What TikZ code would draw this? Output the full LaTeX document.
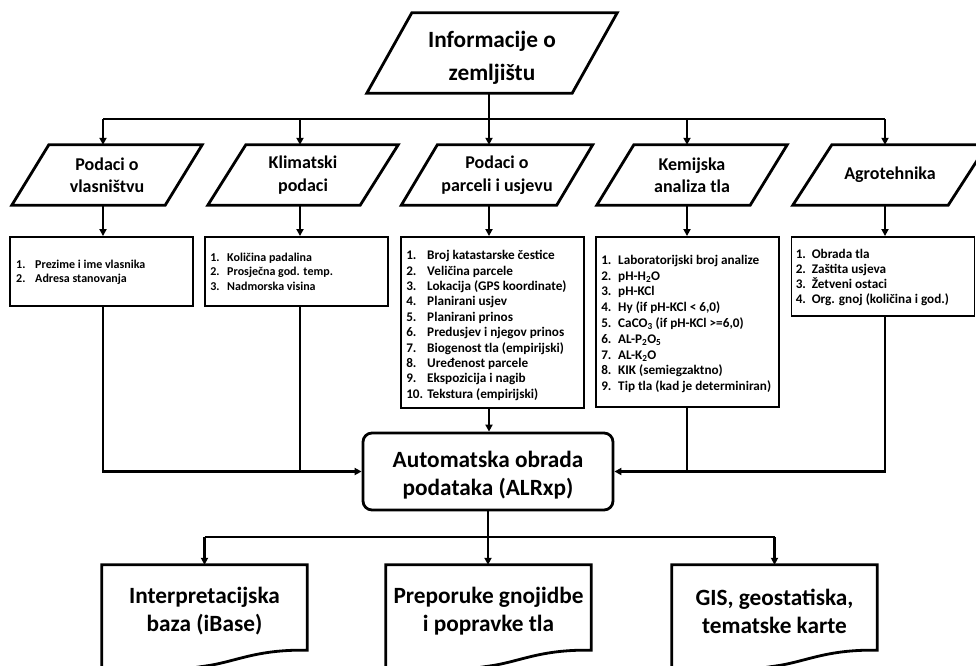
\documentclass[tikz,border=0pt]{standalone}
\usepackage{fontspec}
\setmainfont{Carlito}
\usetikzlibrary{arrows.meta}
\newcommand{\li}[3]{\makebox[#1][l]{#2}#3}
\newcommand{\up}[1]{\rule{0pt}{#1}}
\newcommand{\paral}[2]{\draw[shp] ([xshift=-#2/2]#1.south west) -- ([xshift=-#2/2]#1.south east) -- ([xshift=#2/2]#1.north east) -- ([xshift=#2/2]#1.north west) -- cycle;}
\newcommand{\docshape}[1]{\draw[shp] ([yshift=-40pt]#1.south west) -- (#1.north west) -- (#1.north east) -- (#1.south east) .. controls ([shift={(-52,-1)}]#1.south east) and ([shift={(-72,12)}]#1.south east) .. ([shift={(-103,16)}]#1.south east) .. controls ([shift={(-134,20)}]#1.south east) and ([shift={(-170,32)}]#1.south east) .. ([shift={(-205,40)}]#1.south east);}
\begin{document}
\begin{tikzpicture}[x=1pt,y=-1pt,
  shp/.style={line width=2.8pt,line join=miter},
  conn/.style={line width=2.2pt},
  arr/.style={conn,-{Triangle[length=7pt,width=7pt]}},
  lbox/.style={draw,line width=1.9pt,inner sep=0pt,minimum width=183pt},
  big/.style={font=\bfseries\fontsize{23.3}{28}\selectfont,align=center,inner sep=0pt},
  mid/.style={font=\bfseries\fontsize{18}{22.5}\selectfont,align=center,inner sep=0pt,minimum width=153pt,minimum height=60pt},
  lst/.style={anchor=west,align=left,inner sep=0pt}]

\useasboundingbox (0,0) rectangle (976,665);
\clip (0,0) rectangle (976,665);

% columns and buses
\coordinate (c1) at (103,0);
\coordinate (c2) at (300,0);
\coordinate (c3) at (489,0);
\coordinate (c4) at (687,0);
\coordinate (c5) at (885,0);
\coordinate (busA) at (0,119);
\coordinate (busB) at (0,537);

% title
\node[big,font=\bfseries\fontsize{23.3}{33}\selectfont,minimum width=205pt,minimum height=80pt] (t0) at (492,53) {\up{25pt}Informacije o\\zemljištu};
\paral{t0}{45}

% row 2
\node[mid] (p1) at (107,175) {Podaci o\\vlasništvu};
\paral{p1}{37}
\node[mid,minimum width=152pt] (p2) at (303,175) {Klimatski\\podaci};
\paral{p2}{38}
\node[mid,minimum width=155pt] (p3) at (497,175) {Podaci o\\parceli i usjevu};
\paral{p3}{36}
\node[mid] (p4) at (692,175) {Kemijska\\analiza tla};
\paral{p4}{37}
\node[mid,minimum width=155pt] (p5) at (890,175) {Agrotehnika};
\paral{p5}{39}

% boxes
\node[lbox,minimum height=69pt] (b1) at (101.5,271.5) {};
\node[lbox,minimum height=69pt] (b2) at (296.5,271.5) {};
\node[lbox,minimum height=171pt] (b3) at (492.5,322.5) {};
\node[lbox,minimum height=170pt] (b4) at (687.5,322) {};
\node[lbox,minimum height=79pt] (b5) at (883,276.5) {};

\node[lst,font=\bfseries\fontsize{12}{13.7}\selectfont] (l1) at ([xshift=7pt,yshift=-1pt]b1.west)
 {\li{19pt}{1.}{Prezime i ime vlasnika}\\\li{19pt}{2.}{Adresa stanovanja}};
\node[lst,font=\bfseries\fontsize{12}{14.5}\selectfont] (l2) at ([xshift=6pt]b2.west)
 {\li{17pt}{1.}{Količina padalina}\\\li{17pt}{2.}{Prosječna god. temp.}\\\li{17pt}{3.}{Nadmorska visina}};
\node[lst,font=\bfseries\fontsize{13.2}{15.4}\selectfont] (l3) at ([xshift=6pt,yshift=-3pt]b3.west)
 {\li{21pt}{1.}{Broj katastarske čestice}\\
  \li{21pt}{2.}{Veličina parcele}\\
  \li{21pt}{3.}{Lokacija (GPS koordinate)}\\
  \li{21pt}{4.}{Planirani usjev}\\
  \li{21pt}{5.}{Planirani prinos}\\
  \li{21pt}{6.}{Predusjev i njegov prinos}\\
  \li{21pt}{7.}{Biogenost tla (empirijski)}\\
  \li{21pt}{8.}{Uređenost parcele}\\
  \li{21pt}{9.}{Ekspozicija i nagib}\\
  \li{21pt}{10.}{Tekstura (empirijski)}};
\node[lst,font=\bfseries\fontsize{13.2}{15.8}\selectfont] (l4) at ([xshift=6pt,yshift=-2pt]b4.west)
 {\li{17pt}{1.}{Laboratorijski broj analize}\\
  \li{17pt}{2.}{pH-H\textsubscript{2}O}\\
  \li{17pt}{3.}{pH-KCl}\\
  \li{17pt}{4.}{Hy (if pH-KCl < 6,0)}\\
  \li{17pt}{5.}{CaCO\textsubscript{3} (if pH-KCl >=6,0)}\\
  \li{17pt}{6.}{AL-P\textsubscript{2}O\textsubscript{5}}\\
  \li{17pt}{7.}{AL-K\textsubscript{2}O}\\
  \li{17pt}{8.}{KIK (semiegzaktno)}\\
  \li{17pt}{9.}{Tip tla (kad je determiniran)}};
\node[lst,font=\bfseries\fontsize{13.2}{14.7}\selectfont] (l5) at ([xshift=5pt,yshift=-1pt]b5.west)
 {\li{16pt}{1.}{Obrada tla}\\\li{16pt}{2.}{Zaštita usjeva}\\\li{16pt}{3.}{Žetveni ostaci}\\\li{16pt}{4.}{Org. gnoj (količina i god.)}};

% central process
\node[big,draw,line width=2.8pt,rounded corners=9pt,minimum width=250pt,minimum height=77pt] (ab) at (488,471.5) {\up{23.5pt}Automatska obrada\\podataka (ALRxp)};

% documents
\node[big,minimum width=205pt,minimum height=85pt] (d1) at (204.5,607.5) {\up{24pt}Interpretacijska\\baza (iBase)};
\node[big,minimum width=205pt,minimum height=85pt] (d2) at (488.5,607.5) {\up{24pt}Preporuke gnojidbe\\i popravke tla};
\node[big,minimum width=205pt,minimum height=85pt] (d3) at (774.5,607.5) {\up{24pt}GIS, geostatiska,\\tematske karte};
\docshape{d1}
\docshape{d2}
\docshape{d3}

% connectors
\draw[arr] (c3 |- t0.south) -- (c3 |- p3.north);
\draw[conn] (c1 |- busA) -- (c5 |- busA);
\foreach \i in {1,2,4,5} \draw[arr] (c\i |- busA) -- (c\i |- p\i.north);
\foreach \i in {1,...,5} \draw[arr] (c\i |- p\i.south) -- (c\i |- b\i.north);
\draw[arr] (c1 |- b1.south) |- (ab.west);
\draw[conn] (c2 |- b2.south) -- (c2 |- ab.west);
\draw[arr] (c3 |- b3.south) -- (c3 |- ab.north);
\draw[arr] (c5 |- b5.south) |- (ab.east);
\draw[conn] (c4 |- b4.south) -- (c4 |- ab.east);
\draw[arr] (ab.south) -- (ab.south |- d2.north);
\draw[conn] (d1.north |- busB) -- (d3.north |- busB);
\draw[arr] (d1.north |- busB) -- (d1.north);
\draw[arr] (d3.north |- busB) -- (d3.north);
\end{tikzpicture}
\end{document}
